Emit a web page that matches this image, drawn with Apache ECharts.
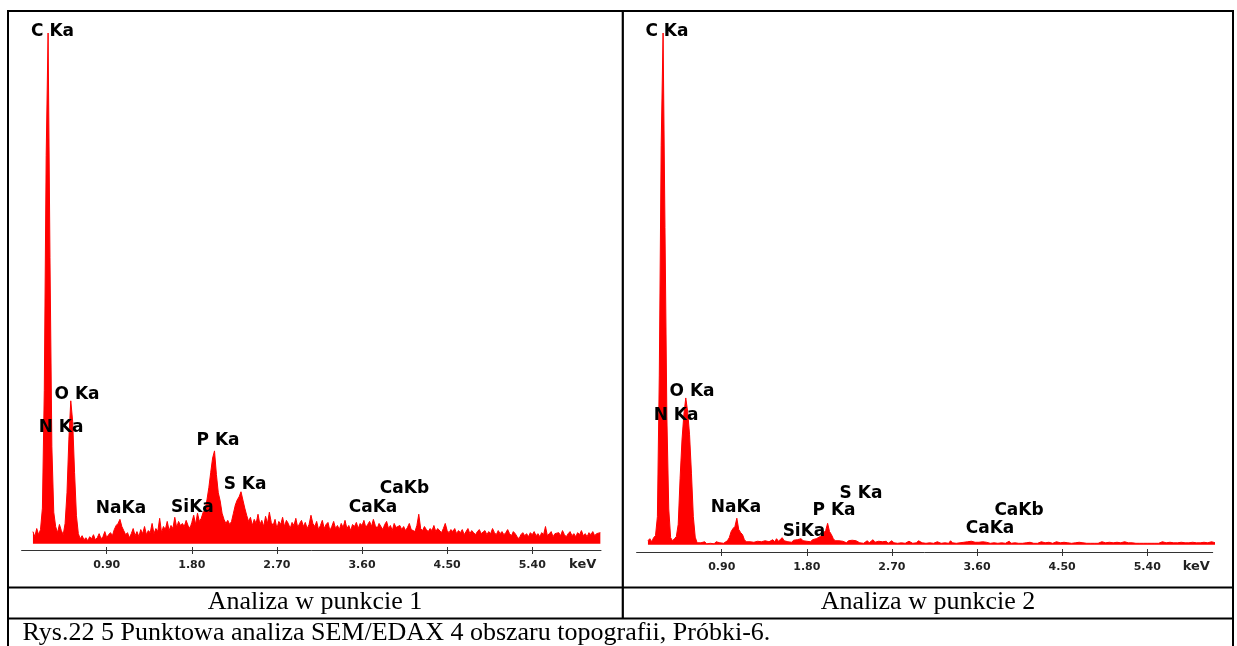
<!DOCTYPE html>
<html><head><meta charset="utf-8">
<script src="https://cdn.jsdelivr.net/npm/echarts@6/dist/echarts.min.js"></script>
<style>html,body{margin:0;padding:0;background:#fff}#c{width:1237px;height:646px}</style>
</head><body><div id="c"></div>
<script>
// ---- data ----
const energyStart = 0.12;   // keV of first channel shown
const energyStep = 0.02;    // keV per channel
const tickValues = [0.9, 1.8, 2.7, 3.6, 4.5, 5.4];

// Analiza w punkcie 1 (counts, C Ka peak = 1000)
const spectrum1 = [
  24,14,30,18,28,70,300,760,1000,560,
  190,62,34,22,38,26,18,40,100,205,
  280,240,140,55,20,10,16,8,12,6,
  14,10,18,8,12,20,10,14,24,12,
  18,22,16,28,36,40,48,34,26,18,
  22,12,20,30,16,24,14,28,20,34,
  18,26,22,40,20,30,24,50,22,34,
  28,44,26,36,30,52,32,44,36,40,
  34,46,36,30,42,56,38,60,44,50,
  62,66,86,110,140,168,182,136,100,84,
  60,48,40,46,38,44,60,76,86,92,
  102,86,70,56,44,52,36,48,40,58,
  38,46,34,54,40,62,42,36,48,30,
  44,38,52,34,46,40,30,42,36,50,
  32,40,46,34,42,30,38,56,40,34,
  44,28,36,46,30,38,42,26,34,44,
  30,36,28,40,32,46,30,36,26,38,
  34,42,30,40,36,46,32,38,44,34,
  48,36,30,40,34,28,38,44,30,36,
  26,40,32,30,36,28,34,26,32,40,
  28,30,24,36,58,30,26,34,28,24,
  30,26,36,24,30,28,22,30,40,26,
  22,28,24,30,20,26,22,28,18,24,
  30,20,26,22,18,24,28,20,22,26,
  18,24,20,30,22,18,26,20,24,18,
  22,28,20,16,24,20,14,10,18,22,
  16,20,14,22,18,24,16,20,14,22,
  18,34,16,20,24,14,20,18,22,16,
  26,18,14,20,24,16,20,14,22,18,
  26,16,20,14,22,18,24,16,20,18,
  22
];

// Analiza w punkcie 2 (counts, C Ka peak = 1000)
const spectrum2 = [
  8,12,6,14,18,55,330,780,1000,620,
  250,70,14,8,12,16,40,130,205,255,
  287,260,215,140,55,15,4,2,4,3,
  6,2,4,3,5,2,6,3,4,5,
  3,6,8,14,26,32,36,52,30,24,
  20,10,6,4,6,3,5,4,7,4,
  6,3,8,5,6,4,10,6,12,7,
  9,14,8,10,6,8,5,9,6,10,
  7,12,8,10,7,9,6,10,8,12,
  10,16,20,24,28,42,26,20,12,8,
  6,8,5,7,6,4,8,6,9,10,
  8,6,4,6,3,
  5,8,4,6,10,5,3,7,4,6,
  4,7,3,5,8,4,6,3,5,4,
  6,3,5,7,4,3,6,4,8,5,
  4,6,3,5,4,7,3,5,6,4,
  3,5,4,6,3,8,4,5,3,6,
  4,3,5,4,6,3,7,4,5,3,
  5,4,6,3,5,4,3,6,4,5,
  3,5,4,6,3,4,7,3,5,4,
  4,3,5,3,6,4,3,5,4,3,
  5,3,4,6,3,4,3,5,4,3,
  4,6,3,4,3,5,3,4,6,3,
  3,4,3,5,3,4,6,3,4,3,
  5,3,4,3,4,6,3,4,3,5,
  3,4,3,5,3,4,3,6,3,4,
  3,4,5,3,4,3,4,3,5,3,
  4,3,5,3,4,3,4,6,3,4,
  3,5,3,4,3,4,3,5,3,4,
  3,4,3,5,3,4,3,4,3,5,
  3,4,3,6,3,4
];

const peakNames = ['C Ka','N Ka','O Ka','NaKa','SiKa','P Ka','S Ka','CaKa','CaKb'];
// label anchor points [keV, counts]
const labelAt1 = [[0.327,1002],[0.417,227],[0.586,292],[1.051,69],[1.807,72],[2.077,202],[2.363,116],[3.716,71],[4.049,108]];
const labelAt2 = [[0.321,1002],[0.417,252],[0.586,299],[1.051,72],[1.770,25],[2.088,66],[2.373,100],[3.737,31],[4.044,66]];

const captions = ['Analiza w punkcie 1', 'Analiza w punkcie 2'];
const figureCaption = 'Rys.22 5 Punktowa analiza SEM/EDAX 4 obszaru topografii, Próbki-6.';
const axisUnit = 'keV';

// ---- chart ----
const toPairs = arr => arr.map((v, i) => [+(energyStart + i * energyStep).toFixed(2), v]);
const labelData = (pos) => pos.map((p, i) => ({ name: peakNames[i], value: p }));

const RED = '#ff0000';
const tickFont = { fontFamily: 'DejaVu Sans', fontWeight: 'bold', fontSize: 11, color: '#222' };

function mainX(grid, max) {
  return {
    type: 'value', gridIndex: grid, min: 0, max: max, position: 'bottom',
    axisLine: { show: true, onZero: false, lineStyle: { color: '#333', width: 1 } },
    axisTick: { show: true, customValues: tickValues, length: 4, lineStyle: { color: '#333' } },
    axisLabel: Object.assign({ customValues: tickValues, margin: 10, formatter: v => v.toFixed(2) }, tickFont),
    splitLine: { show: false }
  };
}
function innerX(grid, max) {
  return {
    type: 'value', gridIndex: grid, min: 0, max: max, position: 'bottom',
    axisLine: { show: false, onZero: false },
    axisTick: { show: true, inside: true, customValues: tickValues, length: 3, lineStyle: { color: '#333' } },
    axisLabel: { show: false }, splitLine: { show: false }
  };
}
function specSeries(idx, data) {
  return {
    type: 'line', xAxisIndex: idx, yAxisIndex: idx, data: toPairs(data), z: 2,
    showSymbol: false, symbol: 'none', silent: true,
    lineStyle: { color: RED, width: 1 }, itemStyle: { color: RED },
    areaStyle: { color: RED, opacity: 1 }
  };
}
function labelSeries(idx, pos) {
  return {
    type: 'scatter', xAxisIndex: idx, yAxisIndex: idx, data: labelData(pos),
    z: 20, zlevel: 1,
    symbol: 'circle', symbolSize: 0, clip: false, silent: true,
    emphasis: { disabled: true },
    label: { show: true, position: [0, 0], align: 'center', verticalAlign: 'middle',
      formatter: p => p.name, opacity: 1, textBorderWidth: 0,
      fontFamily: 'DejaVu Sans', fontWeight: 'bold', fontSize: 17, color: '#000' }
  };
}

const lineColor = '#000';
const rect = (x, y, w, h) => ({ type: 'rect', shape: { x, y, width: w, height: h }, style: { fill: lineColor }, silent: true });
const serifText = (x, y, text, align) => ({ type: 'text', x, y,
  style: { text, fill: '#000', font: '26px "Liberation Serif", "Times New Roman", serif', textAlign: align, textVerticalAlign: 'middle' } });
const unitText = (x, y) => ({ type: 'text', x, y,
  style: { text: axisUnit, fill: '#222', font: 'bold 13px "DejaVu Sans"', textAlign: 'center', textVerticalAlign: 'middle' } });

const chart = echarts.init(document.getElementById('c'), null, { renderer: 'canvas' });
chart.setOption({
  animation: false,
  backgroundColor: '#fff',
  grid: [
    { left: 21.6, top: 33, width: 579.4, height: 517 },
    { left: 636.6, top: 33, width: 576.1, height: 519 }
  ],
  xAxis: [mainX(0, 6.127), mainX(1, 6.092), innerX(0, 6.127), innerX(1, 6.092)],
  yAxis: [
    { type: 'value', gridIndex: 0, min: -12, max: 1000, show: false },
    { type: 'value', gridIndex: 1, min: -14, max: 1000, show: false }
  ],
  series: [specSeries(0, spectrum1), specSeries(1, spectrum2), labelSeries(0, labelAt1), labelSeries(1, labelAt2)],
  graphic: [
    rect(7, 10, 1227, 2),
    rect(7, 10, 2, 636),
    rect(1232, 10, 2, 636),
    rect(621.7, 10, 2.2, 609),
    rect(7, 586.5, 1227, 2),
    rect(7, 617.5, 1227, 2),
    serifText(315, 602, captions[0], 'center'),
    serifText(928, 602, captions[1], 'center'),
    serifText(22.5, 633, figureCaption, 'left'),
    unitText(582.7, 564.3),
    unitText(1196.3, 566.7)
  ]
});
</script>
</body></html>
